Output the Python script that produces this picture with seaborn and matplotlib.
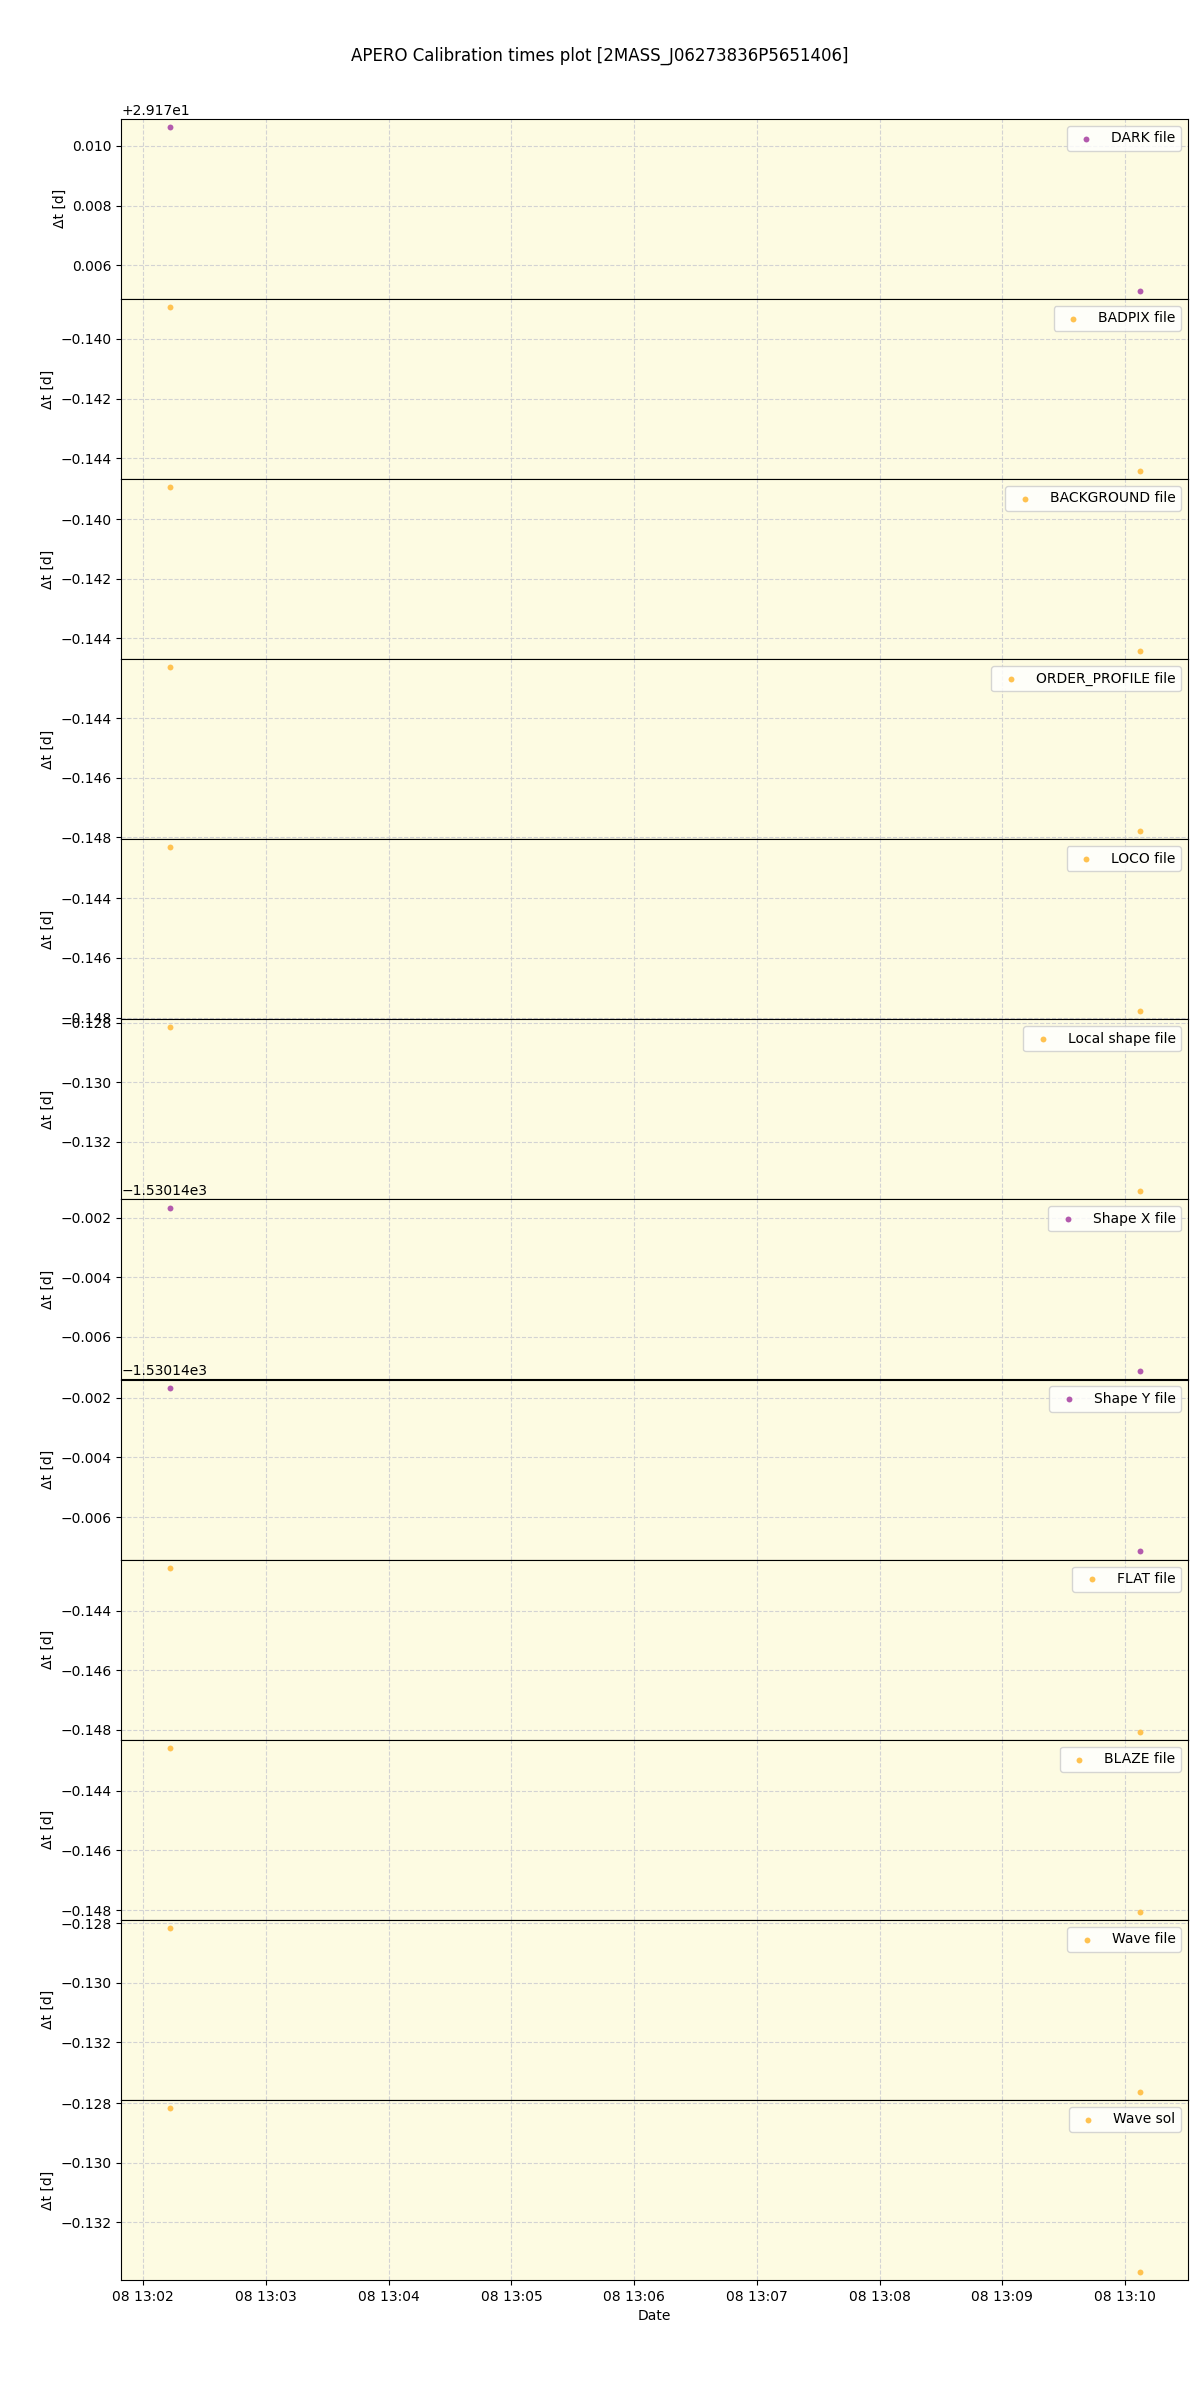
"""
APERO calibration times plot
"""

import matplotlib
matplotlib.use("Agg")
import matplotlib.pyplot as plt
import matplotlib.dates as mdates
import seaborn as sns
import pandas as pd

# observation times (x axis)
obs_times = pd.to_datetime(["2019-10-08 13:02:13", "2019-10-08 13:10:07"])

# calibration series: label, dt values [d], colour
labels = ["DARK file", "BADPIX file", "BACKGROUND file", "ORDER_PROFILE file",
          "LOCO file", "Local shape file", "Shape X file", "Shape Y file",
          "FLAT file", "BLAZE file", "Wave file", "Wave sol"]

dark_dt = [29.180633, 29.175147]
badpix_dt = [-0.138933, -0.144419]
background_dt = [-0.138933, -0.144419]
order_profile_dt = [-0.142300, -0.147786]
loco_dt = [-0.142300, -0.147786]
local_shape_dt = [-0.128167, -0.133653]
shape_x_dt = [-1530.141667, -1530.147153]
shape_y_dt = [-1530.141667, -1530.147153]
flat_dt = [-0.142567, -0.148053]
blaze_dt = [-0.142567, -0.148053]
wave_file_dt = [-0.128167, -0.133653]
wave_sol_dt = [-0.128167, -0.133653]

all_dt = [dark_dt, badpix_dt, background_dt, order_profile_dt, loco_dt,
          local_shape_dt, shape_x_dt, shape_y_dt, flat_dt, blaze_dt,
          wave_file_dt, wave_sol_dt]

PURPLE = "#b35aad"
ORANGE = "#ffc250"
colours = [PURPLE, ORANGE, ORANGE, ORANGE, ORANGE, ORANGE,
           PURPLE, PURPLE, ORANGE, ORANGE, ORANGE, ORANGE]

fig, axes = plt.subplots(len(labels), 1, figsize=(12, 24), sharex=True)
fig.subplots_adjust(left=0.101, right=0.99, top=0.9505, bottom=0.05, hspace=0)

for ax, label, dt, colour in zip(axes, labels, all_dt, colours):
    df = pd.DataFrame({"date": obs_times, "dt": dt})
    sns.scatterplot(data=df, x="date", y="dt", color=colour, s=18,
                    linewidth=0, label=label, ax=ax)
    ax.set_facecolor("#fdfbe2")
    ax.grid(True, color="lightgray", linestyle="--", linewidth=0.8)
    ax.set_axisbelow(True)
    ax.set_ylabel("Δt [d]")
    ax.set_xlabel("")
    ax.legend(loc="upper right")

axes[-1].set_xlabel("Date")
axes[-1].xaxis.set_major_formatter(mdates.DateFormatter("%d %H:%M"))
axes[-1].xaxis.set_major_locator(mdates.MinuteLocator())

fig.suptitle("APERO Calibration times plot [2MASS_J06273836P5651406]",
             y=0.9805, fontsize=12)

plt.savefig("out.png", dpi=100)
